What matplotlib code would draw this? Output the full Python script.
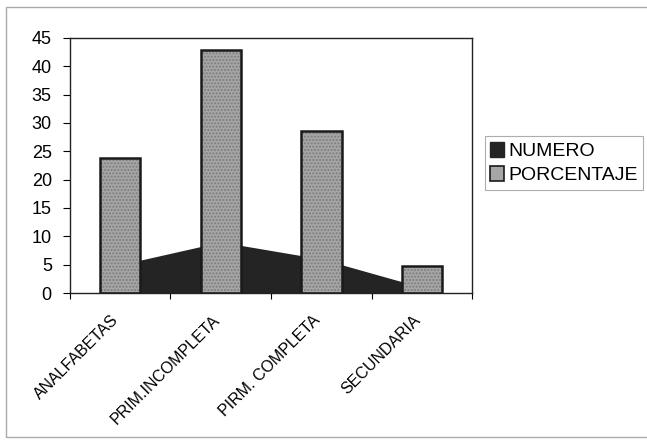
import matplotlib
matplotlib.use("Agg")
import matplotlib.pyplot as plt
from matplotlib.patches import Rectangle, Patch
from matplotlib.transforms import ScaledTranslation

plt.rcParams['font.family'] = ['Liberation Sans', 'DejaVu Sans']

# datos
categorias = ["ANALFABETAS", "PRIM.INCOMPLETA", "PIRM. COMPLETA", "SECUNDARIA"]
numero = [5, 9, 6, 1]
porcentaje = [23.8, 42.9, 28.6, 4.8]

fig = plt.figure(figsize=(6.47, 4.40), dpi=100)
ax = fig.add_axes([0.108, 0.334, 0.622, 0.580])

x = list(range(len(categorias)))

# area (NUMERO) detras de las barras
ax.fill_between(x, numero, 0, color='#242424', linewidth=0, zorder=1)
# barras con textura gris + contorno oscuro
ax.bar(x, porcentaje, width=0.4, color='#a6a6a6', edgecolor='#7c7c7c',
       hatch='.....', linewidth=0, zorder=2)
ax.bar(x, porcentaje, width=0.4, fill=False, edgecolor='#1a1a1a',
       linewidth=1.8, zorder=3)

ax.set_xlim(-0.5, 3.5)
ax.set_ylim(0, 45)
ax.set_yticks(range(0, 46, 5))
ax.tick_params(axis='y', labelsize=13, length=5, width=0.8, pad=8, direction='out')

# marcas entre categorias, etiquetas en el centro
ax.set_xticks([-0.5, 0.5, 1.5, 2.5, 3.5])
ax.set_xticklabels([])
ax.set_xticks(x, minor=True)
ax.set_xticklabels(categorias, minor=True, rotation=45, ha='right', va='top',
                   rotation_mode='anchor', fontsize=11.5)
ax.tick_params(axis='x', which='minor', length=0, pad=14)
ax.tick_params(axis='x', which='major', length=4, width=0.8)
for lbl in ax.get_xticklabels(minor=True):
    lbl.set_transform(lbl.get_transform() + ScaledTranslation(-0.09, 0, fig.dpi_scale_trans))

for s in ax.spines.values():
    s.set_linewidth(1.0)
    s.set_color('#222222')

handles = [Patch(facecolor='#242424', edgecolor='#242424', label='NUMERO'),
           Patch(facecolor='#a6a6a6', edgecolor='#1a1a1a', linewidth=1.2, label='PORCENTAJE')]
leg = fig.legend(handles=handles, loc='upper left', bbox_to_anchor=(0.749, 0.690),
                 fontsize=14, frameon=True, fancybox=False, edgecolor='#999999',
                 handlelength=0.7, handleheight=0.8, handletextpad=0.2,
                 borderpad=0.3, labelspacing=0.3, borderaxespad=0)
leg.get_frame().set_linewidth(0.8)

# marco exterior del grafico
fig.patches.append(Rectangle((0.010, 0.007), 1.0, 0.978, transform=fig.transFigure,
                             fill=False, edgecolor='#aaaaaa', linewidth=1.0))

fig.savefig('out.png', dpi=100)
